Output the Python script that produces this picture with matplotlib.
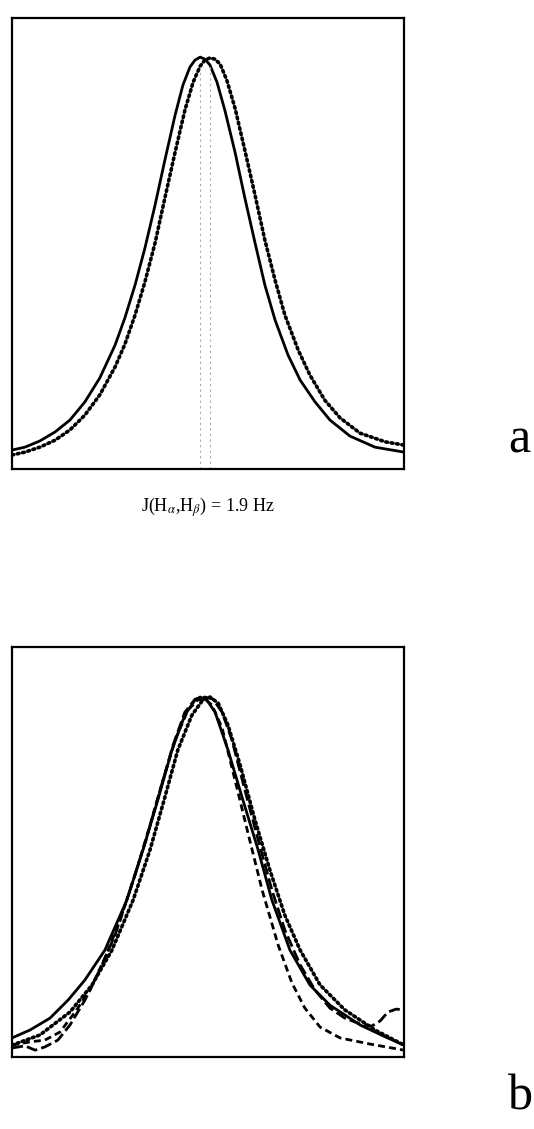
import matplotlib
matplotlib.use("Agg")
import matplotlib.pyplot as plt

plt.rcParams['font.family'] = ['Liberation Serif', 'DejaVu Serif']
plt.rcParams['mathtext.fontset'] = 'stix'

# panel a: simulated lineshapes (x in arbitrary frequency units, y normalised)
a_solid_x = [0, 3.3, 7.1, 11.0, 14.8, 18.6, 22.4, 26.3, 28.8, 31.4, 33.9, 36.5,
             39.0, 41.6, 43.6, 45.4, 46.7, 48.0, 49.2, 50.5, 52.3, 54.3, 56.9,
             59.4, 62.0, 64.5, 67.1, 70.4, 73.5, 77.3, 81.1, 86.2, 92.6, 100]
a_solid_y = [0.046, 0.053, 0.068, 0.090, 0.119, 0.163, 0.221, 0.301, 0.367, 0.447,
             0.536, 0.641, 0.750, 0.859, 0.932, 0.976, 0.993, 1.0, 0.995, 0.981,
             0.939, 0.871, 0.769, 0.658, 0.549, 0.447, 0.362, 0.277, 0.216, 0.163,
             0.119, 0.080, 0.053, 0.041]
a_dot_x = [0, 3.3, 7.1, 11.0, 14.8, 18.6, 22.4, 26.3, 28.8, 31.4, 33.9, 36.5,
           39.0, 41.6, 44.1, 46.2, 48.0, 49.2, 50.5, 51.8, 53.1, 54.8, 56.9,
           59.4, 62.0, 64.5, 67.1, 69.6, 73.0, 76.0, 79.8, 83.7, 88.8, 95.2, 100]
a_dot_y = [0.034, 0.041, 0.053, 0.070, 0.095, 0.131, 0.180, 0.248, 0.303, 0.374,
           0.454, 0.549, 0.658, 0.769, 0.871, 0.939, 0.978, 0.993, 0.998, 0.995,
           0.983, 0.944, 0.876, 0.774, 0.665, 0.556, 0.459, 0.374, 0.289, 0.228,
           0.167, 0.124, 0.087, 0.066, 0.058]
a_peaks = [48.0, 50.6]

# panel b: simulated vs. measured profiles
b_solid_x = [0, 4.6, 9.7, 14.3, 18.6, 23.7, 29.3, 33.4, 37.2, 40.8, 44.1, 46.7,
             48.0, 49.7, 51.8, 55.1, 58.9, 62.8, 66.3, 70.9, 76.0, 81.1, 88.8,
             95.2, 100]
b_solid_y = [0.053, 0.075, 0.108, 0.158, 0.214, 0.297, 0.436, 0.575, 0.714, 0.853,
             0.950, 0.992, 1.0, 0.992, 0.958, 0.853, 0.714, 0.575, 0.436, 0.297,
             0.200, 0.144, 0.089, 0.056, 0.033]
b_dot_x = [0, 7.1, 14.8, 20.4, 25.5, 30.9, 35.2, 38.8, 42.3, 45.9, 48.7, 50.5,
           52.6, 55.1, 58.2, 62.0, 65.8, 69.6, 73.5, 78.6, 84.9, 92.6, 100]
b_dot_y = [0.033, 0.061, 0.125, 0.200, 0.297, 0.436, 0.575, 0.714, 0.853, 0.950,
           0.992, 1.0, 0.983, 0.922, 0.811, 0.658, 0.519, 0.394, 0.297, 0.200,
           0.131, 0.075, 0.033]
b_long_x = [0, 3.3, 5.9, 8.4, 11.7, 14.8, 18.6, 22.4, 26.3, 30.1, 34.2, 37.8,
            41.1, 44.1, 46.7, 49.2, 51.3, 53.6, 56.1, 59.4, 62.8, 66.3, 69.6,
            73.5, 77.3, 81.1, 84.9, 88.8, 91.8, 93.9, 95.9, 98.0, 100]
b_long_y = [0.025, 0.031, 0.019, 0.028, 0.047, 0.089, 0.158, 0.242, 0.339, 0.464,
            0.603, 0.742, 0.867, 0.958, 0.994, 1.0, 0.994, 0.958, 0.881, 0.742,
            0.603, 0.464, 0.353, 0.256, 0.186, 0.136, 0.108, 0.092, 0.086, 0.100,
            0.125, 0.133, 0.131]
b_dash_x = [0, 4.6, 8.4, 12.2, 16.1, 19.9, 23.7, 27.6, 31.4, 35.2, 38.5, 41.8,
            44.9, 47.4, 49.2, 51.0, 53.6, 56.9, 60.2, 63.8, 67.9, 71.4, 74.7,
            78.6, 83.7, 91.3, 100]
b_dash_y = [0.033, 0.042, 0.047, 0.069, 0.125, 0.186, 0.275, 0.381, 0.506, 0.644,
            0.769, 0.886, 0.964, 0.992, 0.994, 0.978, 0.914, 0.769, 0.622, 0.464,
            0.311, 0.206, 0.136, 0.083, 0.053, 0.036, 0.019]

dotted = (0, (0.5, 1.0))

fig = plt.figure(figsize=(5.34, 11.29), dpi=100)

ax_a = fig.add_axes([12 / 534, 1 - 469 / 1129, 392 / 534, 451 / 1129])
ax_a.plot(a_solid_x, a_solid_y, color='black', lw=2.0)
ax_a.plot(a_dot_x, a_dot_y, color='black', lw=2.6, linestyle=dotted,
          dash_capstyle='round')
for xp in a_peaks:
    ax_a.plot([xp, xp], [0, 0.98], color='#aaaaaa', lw=0.8, linestyle=(0, (2, 3)))
ax_a.set_xlim(0, 100)
ax_a.set_ylim(0, 1.095)

ax_b = fig.add_axes([12 / 534, 1 - 1057 / 1129, 392 / 534, 410 / 1129])
ax_b.plot(b_solid_x, b_solid_y, color='black', lw=2.0)
ax_b.plot(b_dot_x, b_dot_y, color='black', lw=2.6, linestyle=dotted,
          dash_capstyle='round')
ax_b.plot(b_long_x, b_long_y, color='black', lw=2.0, linestyle=(0, (4, 1.5)))
ax_b.plot(b_dash_x, b_dash_y, color='black', lw=2.0, linestyle=(0, (2.5, 1.5)))
ax_b.set_xlim(0, 100)
ax_b.set_ylim(0, 1.139)

for ax in (ax_a, ax_b):
    ax.set_xticks([])
    ax.set_yticks([])
    for sp in ax.spines.values():
        sp.set_linewidth(1.6)

fig.text(208 / 534, 1 - 507 / 1129, r"J(H$_\alpha$,H$_\beta$) = 1.9 Hz",
         ha='center', va='center', fontsize=13)
fig.text(508 / 534, 1 - 440 / 1129, "a", ha='left', va='center', fontsize=36)
fig.text(508 / 534, 1 - 1097 / 1129, "b", ha='left', va='center', fontsize=36)

fig.savefig("out.png", dpi=100, facecolor='white')
